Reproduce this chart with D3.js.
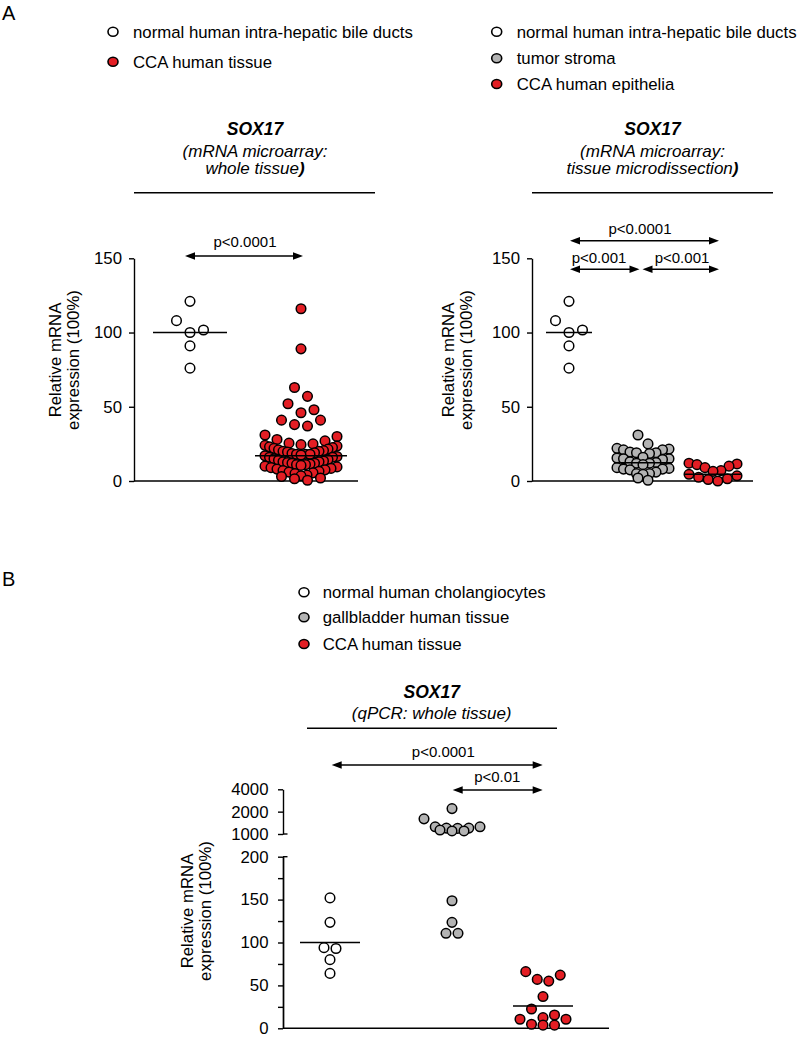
<!DOCTYPE html>
<html><head><meta charset="utf-8">
<script src="https://cdn.jsdelivr.net/npm/d3@7"></script>
<style>
body{margin:0;background:#fff}
svg{display:block}
text{font-family:"Liberation Sans",Arial,sans-serif;fill:#000}
</style>
</head><body>
<svg id="chart" width="800" height="1037"></svg>
<script>
// ---------------- DATA ----------------
const legendA1 = ["normal human intra-hepatic bile ducts", "CCA human tissue"];
const legendA2 = ["normal human intra-hepatic bile ducts", "tumor stroma", "CCA human epithelia"];
const legendB  = ["normal human cholangiocytes", "gallbladder human tissue", "CCA human tissue"];

const catsA1 = ["normal", "cca"];
const catsA2 = ["normal", "stroma", "epithelia"];
const catsB  = ["normal", "gallbladder", "cca"];

// Panel A left (microarray, whole tissue)
const a1Normal = [121, 108, 101.7, 100, 91, 76];
const a1CCA = [116, 89, 63, 57, 52, 48, 46, 41, 41, 38, 37, 31, 30, 28, 27,
  25.5, 25, 24.5, 24, 23.5, 23, 22.5, 22, 21.5, 21, 20.5, 20, 20,
  19.5, 19, 18.5, 18, 18, 18, 17.5, 17, 16.5, 16, 16,
  15, 14.5, 14, 13.5, 13, 13, 12.5, 12, 12, 11.5, 11, 11, 10.5, 10,
  9.5, 9, 8.5, 8, 7.5, 7, 6.5, 6, 5.5, 5, 4, 3.5, 3, 2, 1.5, 0.5];
const a1Lines = [100, 17];

// Panel A right (microarray, microdissection)
const a2Normal = [121, 108, 101.7, 100, 91, 76];
const a2Stroma = [31, 25, 22, 21.5, 21, 21, 19.5, 19, 19, 18.5, 16, 15.5, 15, 15, 14.5,
  13, 12.5, 12, 12, 11, 9, 8.5, 8, 8, 7.5, 6, 5, 5, 4.5, 2, 0.5];
const a2Epith = [12, 11.5, 11, 10, 9, 7, 6.5, 4.5, 3.5, 2.5, 1.5, 1, 0];
const a2Lines = [100, 12.3, 4.5];

// Panel B (qPCR, whole tissue)
const bNormal = [152, 123.5, 94, 93, 80, 64];
const bGall = [2200, 1600, 1250, 1250, 1200, 1200, 1190, 1130, 1100, 1100, 148.7, 123.5, 110.7, 110.7];
const bCCA = [66, 62, 57, 55, 37, 22.5, 15.5, 12.4, 10.5, 10.5, 4.7, 3.7, 3.7];
const bLines = [100, null, 26];

const ticksA = [0, 50, 100, 150];
const ticksBLow = [0, 50, 100, 150, 200];
const minorBLow = [25, 75, 125, 175];
const ticksBHigh = [1000, 2000, 4000];

const pA1 = ["p<0.0001"];
const pA2 = ["p<0.0001", "p<0.001", "p<0.001"];
const pB = ["p<0.0001", "p<0.01"];

// ---------------- STYLE ----------------
const RED = "#e31e24", GREY = "#b3b3b3", WHITE = "#ffffff";
const R = 4.8, SW = 1.5;
const svg = d3.select("#chart");

// ---------------- HELPERS ----------------
function rowLayout(pys, h, s, maxHalf) {
  const idx = pys.map((p, i) => i).sort((a, b) => pys[a] - pys[b]);
  const off = new Array(pys.length).fill(0);
  let i = 0;
  while (i < idx.length) {
    const start = pys[idx[i]];
    const row = [];
    while (i < idx.length && pys[idx[i]] - start <= h) { row.push(idx[i]); i++; }
    row.sort((a, b) => pys[b] - pys[a]);
    const n = row.length;
    const sp = n > 1 ? Math.min(s, 2 * maxHalf / (n - 1)) : 0;
    row.forEach((k, j) => {
      let pos;
      if (n % 2 === 1) { const m = Math.ceil(j / 2); pos = j === 0 ? 0 : (j % 2 === 1 ? m * sp : -m * sp); }
      else { const m = Math.floor(j / 2) + 0.5; pos = j % 2 === 0 ? m * sp : -m * sp; }
      off[k] = pos;
    });
  }
  return off;
}

function drawGroup(g, values, yf, cx, fill, h, s, maxHalf) {
  const pys = values.map(yf);
  const off = rowLayout(pys, h, s, maxHalf);
  const pts = values.map((v, i) => ({ v, x: cx + off[i], y: pys[i] }));
  g.selectAll(null).data(pts).enter().append("circle")
    .attr("cx", d => d.x).attr("cy", d => d.y).attr("r", R)
    .attr("fill", fill).attr("stroke", "#000").attr("stroke-width", SW);
}

function meanLine(g, cx, y, half) {
  g.append("line").attr("x1", cx - half).attr("x2", cx + half)
    .attr("y1", y).attr("y2", y).attr("stroke", "#000").attr("stroke-width", 1.4);
}

function arrow(g, x1, x2, y) {
  const L = 10, H = 3.8;
  g.append("line").attr("x1", x1 + L - 1).attr("x2", x2 - L + 1).attr("y1", y).attr("y2", y)
    .attr("stroke", "#000").attr("stroke-width", 1.4);
  g.append("path").attr("d", `M${x1},${y}L${x1 + L},${y - H}L${x1 + L},${y + H}Z`).attr("fill", "#000");
  g.append("path").attr("d", `M${x2},${y}L${x2 - L},${y - H}L${x2 - L},${y + H}Z`).attr("fill", "#000");
}

function ptext(g, x, y, t) {
  g.append("text").attr("x", x).attr("y", y).attr("text-anchor", "middle")
    .attr("font-size", 15).text(t);
}

function legend(g, x, tx, rows, items, fills) {
  items.forEach((t, i) => {
    g.append("ellipse").attr("cx", x).attr("cy", rows[i]).attr("rx", 5).attr("ry", 4.5)
      .attr("fill", fills[i]).attr("stroke", "#000").attr("stroke-width", 1.6);
    g.append("text").attr("x", tx).attr("y", rows[i] + 5.8).attr("font-size", 16.8).text(t);
  });
}

function ylabel(g, x, cy) {
  const t = g.append("g").attr("transform", `translate(${x},${cy}) rotate(-90)`);
  t.append("text").attr("text-anchor", "middle").attr("font-size", 16.8).attr("y", 0).text("Relative mRNA");
  t.append("text").attr("text-anchor", "middle").attr("font-size", 16.8).attr("y", 17.5).text("expression (100%)");
}

function styleAxis(a, fs) {
  a.selectAll("path,line").attr("stroke", "#000").attr("stroke-width", 1.4);
  a.selectAll("text").attr("font-size", fs).attr("fill", "#000")
    .style("font-family", '"Liberation Sans",Arial,sans-serif');
}

function title(g, cx, lines, ruleX1, ruleX2, ruleY) {
  g.append("text").attr("x", cx).attr("y", lines[0].y).attr("text-anchor", "middle")
    .attr("font-size", 17.5).attr("font-weight", "bold").attr("font-style", "italic").text("SOX17");
  lines.slice(1).forEach(l => {
    const t = g.append("text").attr("x", cx).attr("y", l.y).attr("text-anchor", "middle")
      .attr("font-size", 17).attr("font-style", "italic");
    t.append("tspan").text(l.t);
    if (l.b) t.append("tspan").attr("font-weight", "bold").text(l.b);
  });
  g.append("line").attr("x1", ruleX1).attr("x2", ruleX2).attr("y1", ruleY).attr("y2", ruleY)
    .attr("stroke", "#000").attr("stroke-width", 1.4);
}

// ---------------- PANEL LABELS ----------------
svg.append("text").attr("x", 2).attr("y", 20).attr("font-size", 20).text("A");
svg.append("text").attr("x", 2).attr("y", 586).attr("font-size", 20).text("B");

// ---------------- PANEL A LEFT ----------------
{
  const g = svg.append("g");
  legend(g, 113, 133, [31.7, 61.7], legendA1, [WHITE, RED]);
  title(g, 255, [{ y: 135 }, { y: 156.7, t: "(mRNA microarray:" }, { y: 174, t: "whole tissue", b: ")" }], 134, 375, 192.7);
  const y = d3.scaleLinear().domain([0, 150]).range([481, 258.3]);
  const x = d3.scaleOrdinal().domain(catsA1).range([190, 301]);
  const ax = g.append("g").attr("transform", "translate(134,0)")
    .call(d3.axisLeft(y).tickValues(ticksA).tickSize(5).tickSizeOuter(0).tickPadding(7));
  styleAxis(ax, 16.8);
  g.append("line").attr("x1", 134).attr("x2", 358).attr("y1", y(0)).attr("y2", y(0))
    .attr("stroke", "#000").attr("stroke-width", 1.4);
  ylabel(g, 61, 360);
  drawGroup(g, a1Normal, y, x("normal"), WHITE, 12, 13.5, 36);
  drawGroup(g, a1CCA, y, x("cca"), RED, 10, 13, 36);
  meanLine(g, x("normal"), y(a1Lines[0]), 37);
  meanLine(g, x("cca"), y(a1Lines[1]), 46);
  arrow(g, 185, 303, 256);
  ptext(g, 245, 247, pA1[0]);
}

// ---------------- PANEL A RIGHT ----------------
{
  const g = svg.append("g");
  legend(g, 496.7, 516.7, [31.7, 58.3, 84], legendA2, [WHITE, GREY, RED]);
  title(g, 652.5, [{ y: 135 }, { y: 156.7, t: "(mRNA microarray:" }, { y: 174, t: "tissue microdissection", b: ")" }], 532, 773, 192.7);
  const y = d3.scaleLinear().domain([0, 150]).range([481, 258.3]);
  const x = d3.scaleOrdinal().domain(catsA2).range([569, 643, 713]);
  const ax = g.append("g").attr("transform", "translate(532,0)")
    .call(d3.axisLeft(y).tickValues(ticksA).tickSize(5).tickSizeOuter(0).tickPadding(7));
  styleAxis(ax, 16.8);
  g.append("line").attr("x1", 532).attr("x2", 753).attr("y1", y(0)).attr("y2", y(0))
    .attr("stroke", "#000").attr("stroke-width", 1.4);
  ylabel(g, 454, 360);
  drawGroup(g, a2Normal, y, x("normal"), WHITE, 12, 13.5, 30);
  drawGroup(g, a2Stroma, y, x("stroma"), GREY, 9, 10, 26);
  drawGroup(g, a2Epith, y, x("epithelia"), RED, 9, 10, 24);
  meanLine(g, x("normal"), y(a2Lines[0]), 23);
  meanLine(g, x("stroma"), y(a2Lines[1]), 29);
  meanLine(g, x("epithelia"), y(a2Lines[2]), 29);
  arrow(g, 570, 719, 240.7);
  arrow(g, 570, 639.5, 269.3);
  arrow(g, 642.5, 719, 269.3);
  ptext(g, 640, 233.5, pA2[0]);
  ptext(g, 599, 262.5, pA2[1]);
  ptext(g, 682, 262.5, pA2[2]);
}

// ---------------- PANEL B ----------------
{
  const g = svg.append("g");
  legend(g, 304, 322.7, [592.3, 617.3, 644], legendB, [WHITE, GREY, RED]);
  title(g, 431.7, [{ y: 698.3 }, { y: 719.3, t: "(qPCR: whole tissue)" }], 307, 557, 728.3);
  const yLow = d3.scaleLinear().domain([0, 200]).range([1028.3, 856.7]);
  const yHigh = d3.scaleLog().domain([1000, 4000]).range([834, 789.3]);
  const yf = v => v >= 1000 ? yHigh(v) : yLow(v);
  const x = d3.scaleOrdinal().domain(catsB).range([330, 452, 543]);
  const axL = g.append("g").attr("transform", "translate(283,0)")
    .call(d3.axisLeft(yLow).tickValues(ticksBLow).tickSize(5).tickSizeOuter(0).tickPadding(9.5));
  styleAxis(axL, 16.8);
  const axM = g.append("g").attr("transform", "translate(283,0)")
    .call(d3.axisLeft(yLow).tickValues(minorBLow).tickSize(5).tickSizeOuter(0).tickFormat(""));
  styleAxis(axM, 16.8);
  const axH = g.append("g").attr("transform", "translate(283,0)")
    .call(d3.axisLeft(yHigh).tickValues(ticksBHigh).tickSize(5).tickSizeOuter(0).tickPadding(9.5).tickFormat(d3.format("d")));
  styleAxis(axH, 16.8);
  // break caps
  [yLow(200), yHigh(1000)].forEach(yy => g.append("line").attr("x1", 283).attr("x2", 287.5)
    .attr("y1", yy).attr("y2", yy).attr("stroke", "#000").attr("stroke-width", 1.4));
  g.append("line").attr("x1", 283).attr("x2", 609).attr("y1", yLow(0)).attr("y2", yLow(0))
    .attr("stroke", "#000").attr("stroke-width", 1.4);
  ylabel(g, 193, 911);
  drawGroup(g, bNormal, yf, x("normal"), WHITE, 10, 12, 28);
  drawGroup(g, bGall, yf, x("gallbladder"), GREY, 10, 12, 28);
  drawGroup(g, bCCA, yf, x("cca"), RED, 10, 11.5, 28);
  meanLine(g, x("normal"), yf(bLines[0]), 30);
  meanLine(g, x("cca"), yf(bLines[2]), 30);
  arrow(g, 331.7, 542.7, 765);
  arrow(g, 452.7, 542.7, 790);
  ptext(g, 443.3, 757.3, pB[0]);
  ptext(g, 497.3, 782, pB[1]);
}
</script>
</body></html>
